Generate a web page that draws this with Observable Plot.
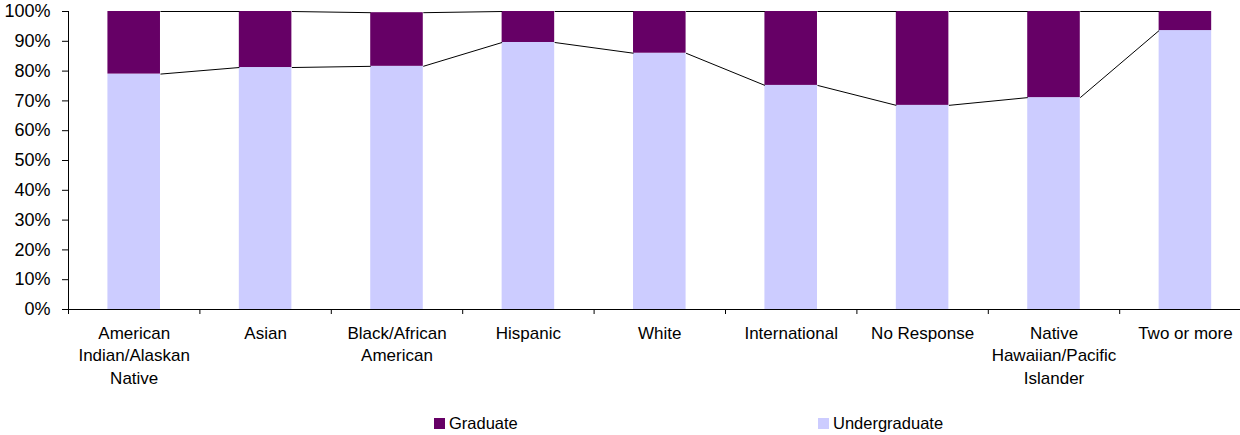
<!DOCTYPE html>
<html>
<head>
<meta charset="utf-8">
<script src="https://cdn.jsdelivr.net/npm/d3@7"></script>
<script src="https://cdn.jsdelivr.net/npm/@observablehq/plot@0.6"></script>
<style>
  html, body { margin: 0; padding: 0; background: #fff; }
  #wrap { position: relative; width: 1240px; height: 435px; overflow: hidden; font-family: "Liberation Sans", Arial, sans-serif; }
  #legend { position: absolute; top: 400px; left: 0; width: 1240px; height: 35px; font-size: 16.5px; color: #000; }
  .item { position: absolute; top: 14px; display: flex; align-items: center; white-space: nowrap; }
  .sw { width: 11px; height: 11px; margin-right: 4px; display: inline-block; }
</style>
</head>
<body>
<div id="wrap">
  <div id="chart"></div>
  <div id="legend"></div>
</div>
<script>
const categories = [
  "American\nIndian/Alaskan\nNative",
  "Asian",
  "Black/African\nAmerican",
  "Hispanic",
  "White",
  "International",
  "No Response",
  "Native\nHawaiian/Pacific\nIslander",
  "Two or more"
];
const undergraduate = [79.0, 81.2, 81.6, 89.6, 86.0, 75.2, 68.5, 71.1, 93.6];
const graduate      = [21.0, 18.8, 18.0, 10.4, 14.0, 24.8, 31.5, 28.9, 6.4];
const yTicks = [0, 10, 20, 30, 40, 50, 60, 70, 80, 90, 100];
const seriesNames = ["Graduate", "Undergraduate"];
const seriesColors = ["#660066", "#CCCCFF"];

const hw = 0.2; // half bar width in band units
const idx = d3.range(categories.length);
const totals = idx.map(i => undergraduate[i] + graduate[i]);

const rects = idx.flatMap(i => [
  {i, level: "Undergraduate", y1: 0, y2: undergraduate[i]},
  {i, level: "Graduate", y1: undergraduate[i], y2: totals[i]}
]);
const links = idx.slice(0, -1).flatMap(i => [
  {x1: i + hw, x2: i + 1 - hw, y1: undergraduate[i], y2: undergraduate[i + 1]},
  {x1: i + hw, x2: i + 1 - hw, y1: totals[i], y2: totals[i + 1]}
]);
const boundaries = d3.range(-0.5, categories.length, 1);

const chart = Plot.plot({
  width: 1240,
  height: 400,
  marginLeft: 68,
  marginRight: 0,
  marginTop: 11,
  marginBottom: 91,
  style: {fontFamily: "'Liberation Sans', Arial, sans-serif", fontSize: "17px", color: "#000", background: "#fff"},
  x: {type: "linear", domain: [-0.5, categories.length - 0.5], range: [68, 68 + 131.4 * categories.length]},
  y: {domain: [0, 100]},
  color: {domain: seriesNames, range: seriesColors},
  marks: [
    Plot.rectY(rects, {x1: d => d.i - hw, x2: d => d.i + hw, y1: "y1", y2: "y2", fill: "level"}),
    Plot.link(links, {x1: "x1", x2: "x2", y1: "y1", y2: "y2", stroke: "#000", strokeWidth: 1}),
    Plot.ruleX([-0.5], {y1: 0, y2: 100, stroke: "#000"}),
    Plot.ruleY([0], {stroke: "#000"}),
    Plot.axisY({ticks: yTicks, tickFormat: d => d + "%", tickSize: 6, tickPadding: 12, stroke: "#000", strokeOpacity: 1, fontSize: 18}),
    Plot.axisX({ticks: boundaries, tickSize: 5, tickFormat: () => "", stroke: "#000", strokeOpacity: 1}),
    Plot.axisX({ticks: idx, tickSize: 0, tickPadding: 13, tickFormat: i => categories[i], lineHeight: 1.33, fontSize: 17})
  ]
});
document.getElementById("chart").appendChild(chart);

const legend = document.getElementById("legend");
const lefts = [434, 818];
seriesNames.forEach((name, k) => {
  const item = document.createElement("div");
  item.className = "item";
  item.style.left = lefts[k] + "px";
  item.innerHTML = `<span class="sw" style="background:${seriesColors[k]}"></span><span>${name}</span>`;
  legend.appendChild(item);
});
</script>
</body>
</html>
